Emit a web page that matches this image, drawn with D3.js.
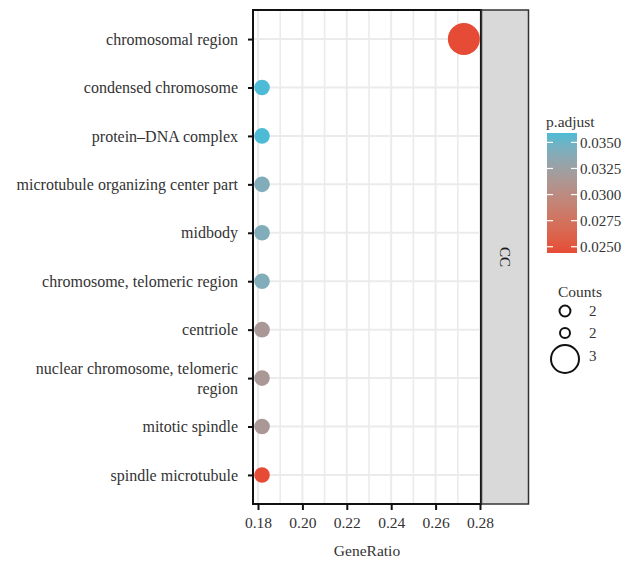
<!DOCTYPE html>
<html>
<head>
<meta charset="utf-8">
<script src="https://cdn.jsdelivr.net/npm/d3@7"></script>
<style>
  html, body { margin: 0; padding: 0; background: #ffffff; }
  svg text { font-family: "Liberation Serif", "DejaVu Serif", serif; fill: #333333; }
</style>
</head>
<body>
<svg id="chart" width="632" height="562"></svg>
<script>
// GO cellular-component enrichment (CC)
const terms = [
  "chromosomal region",
  "condensed chromosome",
  "protein\u2013DNA complex",
  "microtubule organizing center part",
  "midbody",
  "chromosome, telomeric region",
  "centriole",
  "nuclear chromosome, telomeric region",
  "mitotic spindle",
  "spindle microtubule"
];
const geneRatio = [3/11, 2/11, 2/11, 2/11, 2/11, 2/11, 2/11, 2/11, 2/11, 2/11];
const counts    = [3, 2, 2, 2, 2, 2, 2, 2, 2, 2];
const pAdjust   = [0.0244, 0.0359, 0.0359, 0.0341, 0.0341, 0.0341, 0.0315, 0.0315, 0.0315, 0.0244];

const xTicks = [0.18, 0.20, 0.22, 0.24, 0.26, 0.28];
const xMinorTicks = [0.19, 0.21, 0.23, 0.25, 0.27];
const colorTicks = [0.0350, 0.0325, 0.0300, 0.0275, 0.0250];
const sizeLegendValues = [2.05, 2.0, 3.0];
const facetLabel = "CC";

const svg = d3.select("#chart");
const panel = { left: 253, right: 481, top: 10, bottom: 504 };

const x = d3.scaleLinear().domain([0.18, 0.28]).range([258, 480]);
const y = d3.scalePoint().domain(terms).range([panel.top, panel.bottom]).padding(0.6);
const pMin = d3.min(pAdjust), pMax = d3.max(pAdjust);
const color = d3.scaleLinear().domain([pMin, pMax]).range(["#E64B35", "#4DBBD5"]).interpolate(d3.interpolateLab);
const size = d3.scaleLinear().domain([2, 3]).range([7.8, 16]);
const legendSize = d3.scaleLinear().domain([2, 3]).range([5, 14]);

// panel background and grid
svg.append("rect").attr("x", panel.left).attr("y", panel.top)
  .attr("width", panel.right - panel.left).attr("height", panel.bottom - panel.top)
  .attr("fill", "#ffffff");

const grid = svg.append("g").attr("stroke", "#ebebeb");
grid.selectAll(".minor").data(xMinorTicks).join("line")
  .attr("x1", d => x(d)).attr("x2", d => x(d))
  .attr("y1", panel.top).attr("y2", panel.bottom).attr("stroke-width", 1.6);
grid.selectAll(".major").data(xTicks).join("line")
  .attr("x1", d => x(d)).attr("x2", d => x(d))
  .attr("y1", panel.top).attr("y2", panel.bottom).attr("stroke-width", 2);
grid.selectAll(".hz").data(terms).join("line")
  .attr("x1", panel.left).attr("x2", panel.right)
  .attr("y1", d => y(d)).attr("y2", d => y(d)).attr("stroke-width", 2);

// points
const rows = terms.map((t, i) => ({ term: t, ratio: geneRatio[i], count: counts[i], p: pAdjust[i] }));
svg.append("g").selectAll("circle").data(rows).join("circle")
  .attr("cx", d => x(d.ratio)).attr("cy", d => y(d.term))
  .attr("r", d => size(d.count)).attr("fill", d => color(d.p));

// panel border
svg.append("rect").attr("x", panel.left).attr("y", panel.top)
  .attr("width", panel.right - panel.left).attr("height", panel.bottom - panel.top)
  .attr("fill", "none").attr("stroke", "#111111").attr("stroke-width", 2);

// facet strip
svg.append("rect").attr("x", 481.5).attr("y", panel.top)
  .attr("width", 47).attr("height", panel.bottom - panel.top)
  .attr("fill", "#d9d9d9").attr("stroke", "#333333").attr("stroke-width", 1.5);
svg.append("text")
  .attr("transform", `translate(505,${(panel.top + panel.bottom) / 2}) rotate(90)`)
  .attr("text-anchor", "middle").attr("dy", "0.35em")
  .style("font-size", "15px").style("fill", "#1a1a1a").text(facetLabel);

// y axis
const yAxis = svg.append("g").attr("transform", `translate(${panel.left},0)`)
  .call(d3.axisLeft(y).tickSize(5).tickPadding(5).tickFormat(""));
yAxis.select(".domain").remove();
yAxis.selectAll(".tick line").attr("stroke", "#111111").attr("stroke-width", 2);

const labelSize = 16;
const labels = svg.append("g").selectAll("text").data(terms).join("text")
  .attr("x", 238).attr("y", d => y(d))
  .attr("text-anchor", "end").style("font-size", labelSize + "px");
labels.each(function(d) {
  const t = d3.select(this);
  const lines = d === "nuclear chromosome, telomeric region"
    ? ["nuclear chromosome, telomeric", "region"] : [d];
  const lh = 20;
  lines.forEach((ln, k) => {
    t.append("tspan").attr("x", 238)
      .attr("dy", k === 0 ? (0.35 * labelSize - (lines.length - 1) * lh / 2) + "px" : lh + "px")
      .text(ln);
  });
});

// x axis
const xAxis = svg.append("g").attr("transform", `translate(0,${panel.bottom})`)
  .call(d3.axisBottom(x).tickValues(xTicks).tickSize(6).tickPadding(7).tickFormat(d3.format(".2f")));
xAxis.select(".domain").remove();
xAxis.selectAll(".tick line").attr("stroke", "#111111").attr("stroke-width", 2);
xAxis.selectAll(".tick text").style("font-size", "15.5px").attr("fill", "#333333");

svg.append("text").attr("x", (panel.left + panel.right) / 2).attr("y", 556)
  .attr("text-anchor", "middle").style("font-size", "15.5px").text("GeneRatio");

// colour legend
const bar = { x: 547, y: 133, w: 30, h: 120 };
const defs = svg.append("defs");
const grad = defs.append("linearGradient").attr("id", "padj")
  .attr("x1", 0).attr("y1", 1).attr("x2", 0).attr("y2", 0);
d3.range(0, 1.0001, 0.1).forEach(t => {
  grad.append("stop").attr("offset", t).attr("stop-color", color(pMin + t * (pMax - pMin)));
});
svg.append("text").attr("x", 546).attr("y", 127).style("font-size", "15.5px").text("p.adjust");
svg.append("rect").attr("x", bar.x).attr("y", bar.y).attr("width", bar.w).attr("height", bar.h)
  .attr("fill", "url(#padj)");
const cy = d3.scaleLinear().domain([pMin, pMax]).range([bar.y + bar.h, bar.y]);
const cTicks = svg.append("g").selectAll("g").data(colorTicks).join("g")
  .attr("transform", d => `translate(0,${cy(d)})`);
cTicks.append("line").attr("x1", bar.x).attr("x2", bar.x + 6).attr("stroke", "#ffffff").attr("stroke-width", 1.2);
cTicks.append("line").attr("x1", bar.x + bar.w - 6).attr("x2", bar.x + bar.w).attr("stroke", "#ffffff").attr("stroke-width", 1.2);
cTicks.append("text").attr("x", bar.x + bar.w + 3).attr("dy", "0.35em")
  .style("font-size", "15px").text(d => d3.format(".4f")(d));

// size legend
svg.append("text").attr("x", 558).attr("y", 297).style("font-size", "15.5px").text("Counts");
const sizeY = [311, 333, 359];
const sl = svg.append("g").selectAll("g").data(sizeLegendValues).join("g")
  .attr("transform", (d, i) => `translate(565,${sizeY[i]})`);
sl.append("circle").attr("r", d => legendSize(d)).attr("fill", "none")
  .attr("stroke", "#111111").attr("stroke-width", 2);
sl.append("text").attr("x", 24).attr("dy", d => d === 3 ? "0.1em" : "0.35em")
  .style("font-size", "15px").text(d => d3.format(".0f")(d));
</script>
</body>
</html>
